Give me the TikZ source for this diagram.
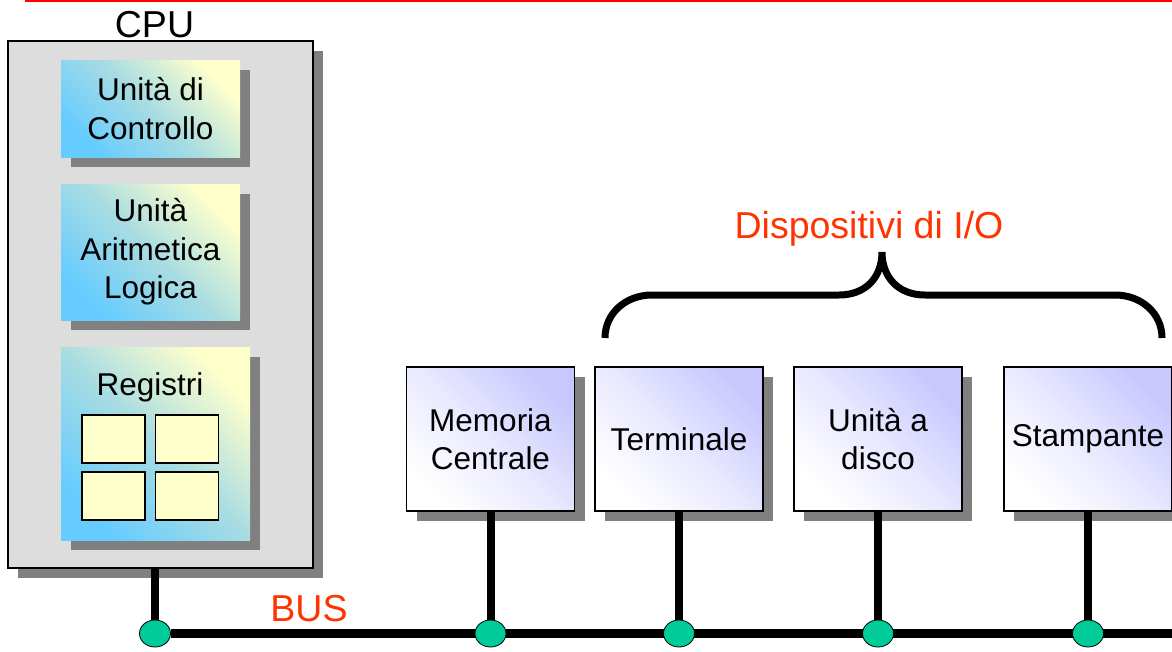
\documentclass[tikz,border=0pt]{standalone}
\usepackage{fontspec}
\setmainfont{Liberation Sans}
\usetikzlibrary{shapes.geometric,shadows,positioning}

\definecolor{cpugray}{RGB}{221,221,221}
\definecolor{shadowgray}{RGB}{128,128,128}
\definecolor{unitblue}{RGB}{102,204,255}
\definecolor{unitteal}{RGB}{168,220,226}
\definecolor{unityellow}{RGB}{255,255,204}
\definecolor{devlilac}{RGB}{200,200,255}
\definecolor{devpale}{RGB}{232,232,255}
\definecolor{busgreen}{RGB}{0,204,153}
\definecolor{labelred}{RGB}{255,51,0}

\newcommand{\boxfont}{\fontsize{31.5}{38.5}\selectfont}
\newcommand{\titlefont}{\fontsize{37.5}{45}\selectfont}

\pgfdeclarelayer{front}
\pgfsetlayers{main,front}

\tikzset{
  boxshadow/.style={general shadow={fill=shadowgray, shadow xshift=10pt, shadow yshift=-10pt}},
  cpubox/.style={draw, line width=2pt, fill=cpugray, boxshadow, inner sep=0pt},
  unitbox/.style={boxshadow, top color=unityellow, bottom color=unitblue, middle color=unitteal,
    shading angle=-45, inner sep=0pt, align=center, font=\boxfont},
  regcell/.style={draw, line width=1.5pt, fill=unityellow, inner sep=0pt,
    minimum width=63pt, minimum height=48pt},
  devbox/.style={draw, line width=1.5pt, boxshadow, top color=devlilac, bottom color=white,
    middle color=devpale, shading angle=-45, inner sep=0pt, align=center, font=\boxfont,
    minimum width=168pt, minimum height=144pt},
  busnode/.style={ellipse, draw, line width=0.8pt, fill=busgreen, inner sep=0pt,
    minimum width=31pt, minimum height=27pt},
  wire/.style={line width=8pt},
  redlabel/.style={text=labelred, font=\titlefont, anchor=base}
}

\begin{document}
\begin{tikzpicture}[x=1pt,y=-1pt]
  \clip (0,0) rectangle (1172,651);

  % red rule on top
  \draw[red, line width=2pt] (25,1) -- (1172,1);

  % CPU and its parts
  \node[cpubox, minimum width=305pt, minimum height=527pt] (cpu) at (160.5,304.5) {};
  \node[anchor=base, font=\titlefont] (cputitle) at (154.5,37) {CPU};

  \node[unitbox, minimum width=179pt, minimum height=97pt] (cu) at (150.5,108.5) {Unità di\\Controllo};
  \node[unitbox, minimum width=179pt, minimum height=136pt] (alu) at (150.5,252) {Unità\\Aritmetica\\Logica};
  \node[unitbox, minimum width=189pt, minimum height=193pt] (reg) at (155.5,443.5) {};
  \node[anchor=base, font=\boxfont] (regtitle) at (150,395) {Registri};

  \foreach \name/\x/\y in {r1/113.5/439, r2/187/439, r3/113.5/496, r4/187/496} {
    \node[regcell] (\name) at (\x,\y) {};
  }

  % memory and I/O devices
  \foreach \name/\x/\txt in {mem/490.5/{Memoria\\Centrale}, term/679/{Terminale},
                             disk/878/{Unità a\\disco}, prn/1088/{Stampante}} {
    \node[devbox] (\name) at (\x,439) {\txt};
  }

  % bus taps
  \begin{pgfonlayer}{front}
    \foreach \name/\x in {busC/155, busM/490.5, busT/679, busD/878, busS/1088} {
      \node[busnode] (\name) at (\x,633.5) {};
    }
  \end{pgfonlayer}
  \coordinate (busEnd) at (1172,633.5);

  \draw[line width=9pt] (busC) -- (busEnd);
  \draw[wire] (cpu.south -| busC) -- (busC);
  \foreach \dev/\tap in {mem/busM, term/busT, disk/busD, prn/busS} {
    \draw[wire] (\dev.south) -- (\tap);
  }

  \node[redlabel] (buslabel) at (309,621) {BUS};

  % I/O brace
  \node[redlabel] (iolabel) at (869,238) {Dispositivi di I/O};
  \draw[line width=7pt]
    (605,338) .. controls (605,313) and (626,295) .. (652,295) -- (839,295)
    .. controls (866,295) and (882,277) .. (882,252)
    .. controls (882,277) and (898,295) .. (925,295) -- (1115,295)
    .. controls (1141,295) and (1162,313) .. (1162,338);

\end{tikzpicture}
\end{document}
